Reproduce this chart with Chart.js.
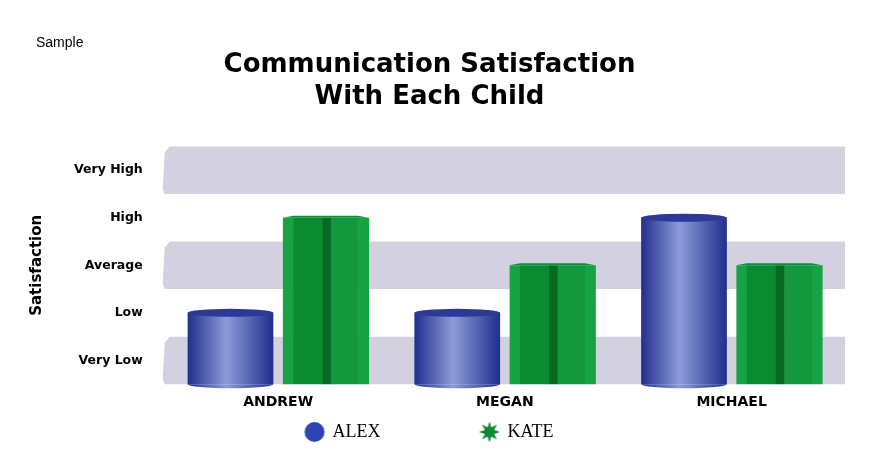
<!DOCTYPE html>
<html><head><meta charset="utf-8">
<script src="https://cdn.jsdelivr.net/npm/chart.js@4"></script>
<style>
body{margin:0;background:#fff;}
#wrap{position:relative;width:882px;height:451px;}
#sample{position:absolute;left:36px;top:34px;font:14px "Liberation Sans",sans-serif;color:#000;}
</style></head>
<body><div id="wrap"><div id="sample">Sample</div><canvas id="c" width="882" height="451"></canvas></div>
<script>
const children = ["ANDREW", "MEGAN", "MICHAEL"];
const levelLabels = ["Very Low", "Low", "Average", "High", "Very High"];
// levels: 0.5 = Very Low ... 4.5 = Very High
const alexValues = [1.5, 1.5, 3.5];
const kateValues = [3.5, 2.5, 2.5];

const bandColor = "#d3d0e0";

function starImage(color) {
    const cv = document.createElement("canvas");
    cv.width = 22; cv.height = 22;
    const g = cv.getContext("2d");
    g.fillStyle = color;
    g.beginPath();
    const n = 8;
    for (let i = 0; i < n * 2; i++) {
        const r = i % 2 ? 5 : 10.5;
        const a = Math.PI * i / n - Math.PI / 2;
        g.lineTo(11 + r * Math.cos(a), 11 + r * Math.sin(a));
    }
    g.closePath();
    g.fill();
    return cv;
}
function dotImage(color) {
    const cv = document.createElement("canvas");
    cv.width = 22; cv.height = 22;
    const g = cv.getContext("2d");
    g.fillStyle = color;
    g.beginPath(); g.arc(11, 11, 10, 0, Math.PI * 2); g.fill();
    return cv;
}

const bandsPlugin = {
    id: "bands",
    beforeDatasetsDraw(chart) {
        const { ctx, chartArea, scales } = chart;
        ctx.save();
        ctx.fillStyle = bandColor;
        [0, 2, 4].forEach((lo) => {
            const y1 = scales.y.getPixelForValue(lo + 1);
            const y0 = scales.y.getPixelForValue(lo);
            ctx.beginPath();
            ctx.moveTo(chartArea.left + 5, y1);
            ctx.lineTo(chartArea.right, y1);
            ctx.lineTo(chartArea.right, y0);
            ctx.lineTo(chartArea.left, y0);
            ctx.lineTo(chartArea.left - 2, y0 - 5);
            ctx.lineTo(chartArea.left, y1 + 6);
            ctx.closePath();
            ctx.fill();
        });
        ctx.restore();
    }
};

const barsPlugin = {
    id: "fancyBars",
    afterDatasetsDraw(chart) {
        const { ctx } = chart;
        ctx.save();
        chart.getDatasetMeta(0).data.forEach((bar) => {
            const l = bar.x - bar.width / 2, w = bar.width;
            const g = ctx.createLinearGradient(l, 0, l + w, 0);
            g.addColorStop(0, "#1f2f8c");
            g.addColorStop(0.45, "#8e9bd9");
            g.addColorStop(1, "#1f2f8c");
            ctx.fillStyle = g;
            ctx.fillRect(l, bar.y, w, bar.base - bar.y);
            ctx.beginPath();
            ctx.ellipse(bar.x, bar.base, w / 2, 4, 0, 0, Math.PI);
            ctx.fill();
            ctx.fillStyle = "#2a3a96";
            ctx.beginPath();
            ctx.ellipse(bar.x, bar.y, w / 2, 4, 0, 0, Math.PI * 2);
            ctx.fill();
        });
        chart.getDatasetMeta(1).data.forEach((bar) => {
            const l = bar.x - bar.width / 2, w = bar.width, h = bar.base - bar.y;
            const strips = [[0, 0.12, "#17a243"], [0.12, 0.46, "#0a8a31"], [0.46, 0.56, "#066a22"], [0.56, 0.88, "#13983d"], [0.88, 1, "#17a243"]];
            strips.forEach(([a, b, c]) => {
                ctx.fillStyle = c;
                ctx.fillRect(l + a * w, bar.y, (b - a) * w + 0.5, h);
            });
            ctx.fillStyle = "#0f9038";
            ctx.beginPath();
            ctx.moveTo(l, bar.y); ctx.lineTo(l + 0.12 * w, bar.y - 2);
            ctx.lineTo(l + 0.88 * w, bar.y - 2); ctx.lineTo(l + w, bar.y);
            ctx.closePath(); ctx.fill();
        });
        ctx.restore();
    }
};

new Chart(document.getElementById("c"), {
    type: "bar",
    data: {
        labels: children,
        datasets: [
            { label: "ALEX", data: alexValues, backgroundColor: "rgba(0,0,0,0)", pointStyle: dotImage("#2e44b0"), categoryPercentage: 0.84, barPercentage: 0.9 },
            { label: "KATE", data: kateValues, backgroundColor: "rgba(0,0,0,0)", pointStyle: starImage("#0a8a31"), categoryPercentage: 0.84, barPercentage: 0.9 }
        ]
    },
    plugins: [bandsPlugin, barsPlugin],
    options: {
        responsive: false,
        animation: false,
        layout: { padding: { top: 50, right: 37, left: 14, bottom: 0 } },
        plugins: {
            title: {
                display: true,
                text: ["Communication Satisfaction", "With Each Child"],
                color: "#000",
                font: { family: "DejaVu Sans", size: 26, weight: "bold", lineHeight: 1.2 },
                padding: { top: 0, bottom: 34 }
            },
            legend: {
                position: "bottom",
                labels: {
                    usePointStyle: true,
                    color: "#000",
                    font: { family: "Liberation Serif", size: 18 },
                    padding: 10,
                    boxWidth: 22,
                    generateLabels: (chart) => Chart.defaults.plugins.legend.labels.generateLabels(chart).map((item, i) => {
                        item.text = i === 0 ? item.text + "\u2003\u2003\u2003\u2003\u2003" : item.text;
                        return item;
                    })
                }
            },
            tooltip: { enabled: false }
        },
        scales: {
            x: {
                grid: { display: false },
                border: { display: false },
                ticks: { color: "#000", font: { family: "DejaVu Sans", size: 14, weight: "bold" }, padding: 2 }
            },
            y: {
                min: 0, max: 5,
                afterBuildTicks: (axis) => { axis.ticks = [0.5, 1.5, 2.5, 3.5, 4.5].map((v) => ({ value: v })); },
                ticks: {
                    color: "#000",
                    font: { family: "DejaVu Sans", size: 12.5, weight: "bold" },
                    padding: 14,
                    callback: (v) => levelLabels[Math.floor(v)]
                },
                grid: { display: false },
                border: { display: false },
                title: { display: true, text: "Satisfaction", color: "#000", font: { family: "DejaVu Sans", size: 15, weight: "bold" }, padding: 14 }
            }
        }
    }
});
</script></body></html>
